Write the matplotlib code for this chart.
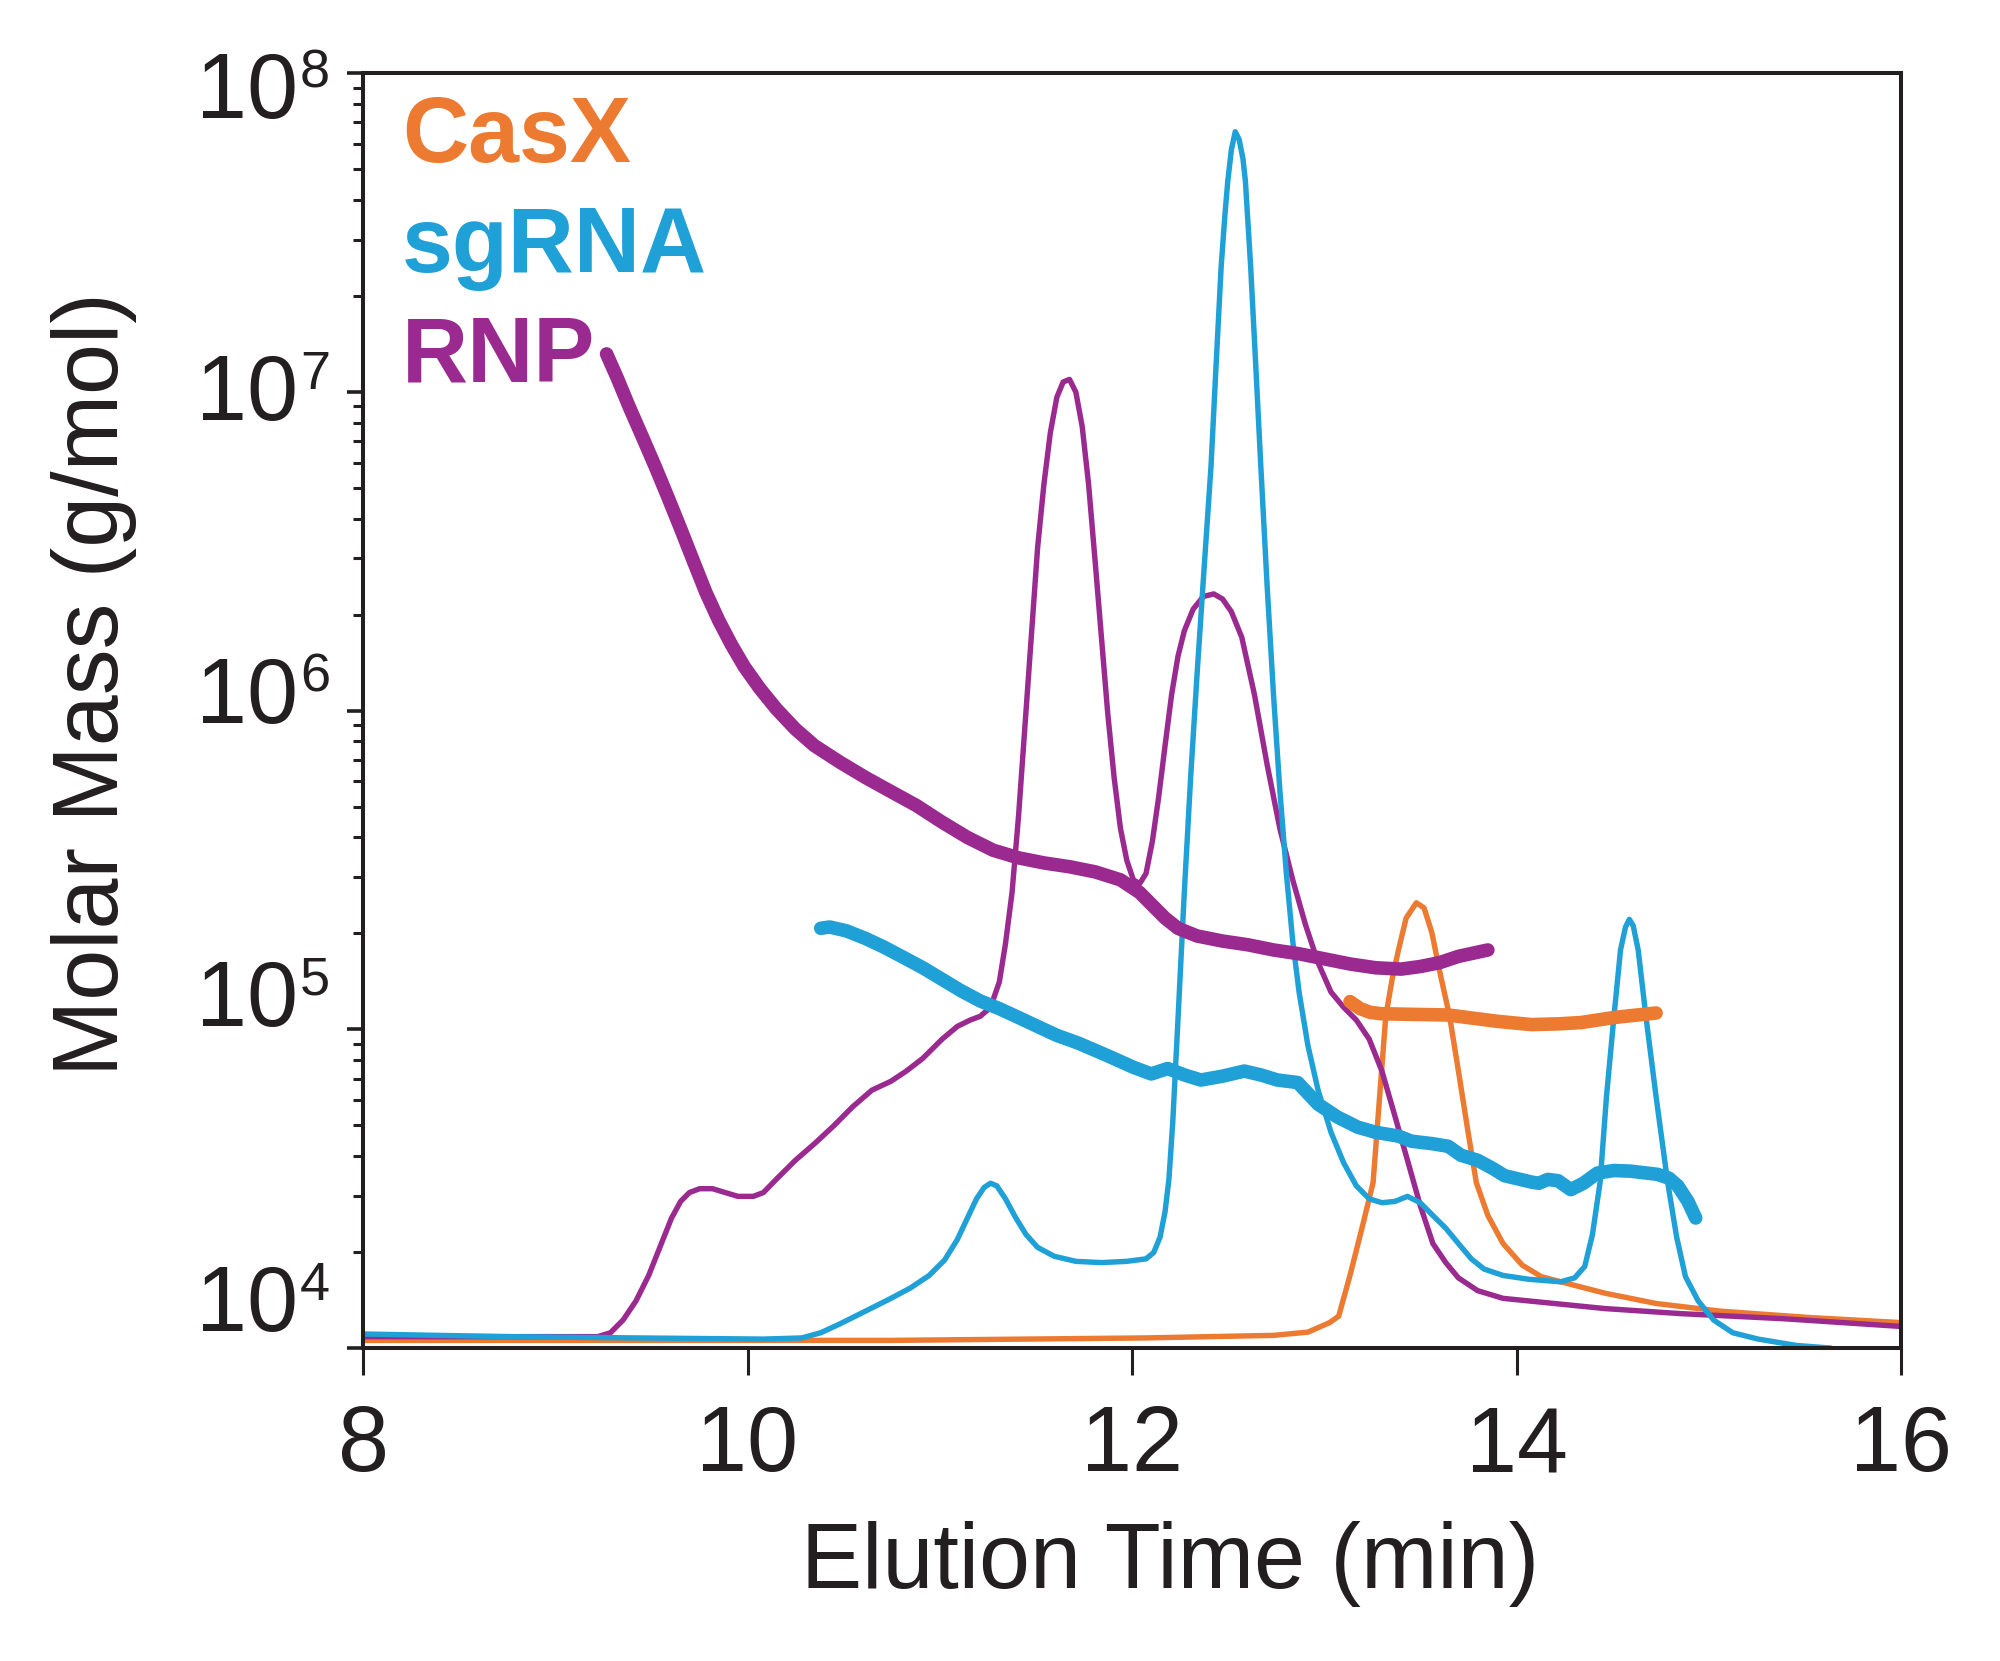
import matplotlib
matplotlib.use("Agg")
import matplotlib.pyplot as plt
from matplotlib.transforms import blended_transform_factory, ScaledTranslation

plt.rcParams['font.family'] = ['Liberation Sans', 'DejaVu Sans']

# ---------------- data (elution time in min, molar mass in g/mol) ----------------
# thin traces (detector signal drawn on the same log axis)
rnp_trace_t = [8.0, 9.221, 9.287, 9.353, 9.420, 9.486, 9.552, 9.605, 9.652, 9.698, 9.751,
               9.818, 9.884, 9.950, 10.030, 10.083, 10.149, 10.249, 10.348, 10.448, 10.547,
               10.647, 10.746, 10.826, 10.912, 11.012, 11.091, 11.158, 11.211, 11.264, 11.310,
               11.342, 11.376, 11.410, 11.443, 11.476, 11.509, 11.542, 11.575, 11.609, 11.642,
               11.675, 11.708, 11.741, 11.774, 11.808, 11.841, 11.874, 11.907, 11.940, 11.973,
               12.007, 12.040, 12.073, 12.106, 12.139, 12.172, 12.206, 12.239, 12.272, 12.318,
               12.371, 12.425, 12.471, 12.517, 12.571, 12.637, 12.703, 12.769, 12.836, 12.902,
               12.968, 13.035, 13.101, 13.167, 13.234, 13.300, 13.367, 13.433, 13.499, 13.565,
               13.632, 13.698, 13.798, 13.930, 14.196, 14.461, 14.859, 15.390, 16.0]
rnp_trace_m = [1.086e4, 1.086e4, 1.117e4, 1.225e4, 1.406e4, 1.690e4, 2.128e4, 2.559e4, 2.884e4,
               3.076e4, 3.162e4, 3.162e4, 3.076e4, 2.992e4, 2.992e4, 3.076e4, 3.381e4, 3.882e4,
               4.375e4, 4.977e4, 5.715e4, 6.442e4, 6.871e4, 7.396e4, 8.110e4, 9.311e4, 1.021e5,
               1.069e5, 1.099e5, 1.172e5, 1.409e5, 1.858e5, 2.685e5, 4.677e5, 8.913e5, 1.698e6,
               3.243e6, 5.140e6, 7.430e6, 9.616e6, 1.074e7, 1.094e7, 9.977e6, 7.780e6, 5.140e6,
               2.951e6, 1.698e6, 9.772e5, 6.166e5, 4.266e5, 3.388e5, 2.944e5, 2.864e5, 3.083e5,
               3.890e5, 5.370e5, 7.762e5, 1.122e6, 1.479e6, 1.778e6, 2.080e6, 2.280e6, 2.323e6,
               2.239e6, 2.042e6, 1.698e6, 1.122e6, 6.761e5, 4.266e5, 2.944e5, 2.133e5, 1.618e5,
               1.309e5, 1.172e5, 1.069e5, 9.311e4, 7.396e4, 5.358e4, 3.882e4, 2.805e4, 2.128e4,
               1.854e4, 1.660e4, 1.514e4, 1.432e4, 1.380e4, 1.330e4, 1.282e4, 1.236e4, 1.169e4]

sgrna_trace_t = [8.0, 8.756, 9.420, 10.083, 10.282, 10.381, 10.481, 10.614, 10.746, 10.846,
                 10.945, 11.025, 11.091, 11.144, 11.191, 11.231, 11.264, 11.297, 11.342, 11.396,
                 11.449, 11.509, 11.595, 11.708, 11.841, 11.973, 12.073, 12.113, 12.146, 12.172,
                 12.192, 12.212, 12.239, 12.272, 12.305, 12.338, 12.371, 12.411, 12.438, 12.464,
                 12.484, 12.498, 12.517, 12.537, 12.557, 12.577, 12.590, 12.617, 12.643, 12.670,
                 12.703, 12.736, 12.769, 12.803, 12.836, 12.869, 12.915, 12.968, 13.035, 13.101,
                 13.167, 13.234, 13.300, 13.367, 13.433, 13.499, 13.565, 13.632, 13.698, 13.765,
                 13.831, 13.930, 14.063, 14.229, 14.302, 14.355, 14.395, 14.435, 14.468, 14.507,
                 14.541, 14.567, 14.587, 14.607, 14.633, 14.673, 14.726, 14.786, 14.833, 14.879,
                 14.945, 15.025, 15.125, 15.257, 15.456, 15.635]
sgrna_trace_m = [1.107e4, 1.086e4, 1.076e4, 1.067e4, 1.076e4, 1.117e4, 1.191e4, 1.306e4,
                 1.432e4, 1.542e4, 1.690e4, 1.888e4, 2.188e4, 2.559e4, 2.938e4, 3.192e4,
                 3.289e4, 3.228e4, 2.938e4, 2.559e4, 2.270e4, 2.070e4, 1.941e4, 1.871e4,
                 1.854e4, 1.871e4, 1.905e4, 1.995e4, 2.228e4, 2.679e4, 3.381e4, 5.117e4,
                 1.069e5, 2.685e5, 6.166e5, 1.288e6, 2.570e6, 5.848e6, 1.233e7, 2.483e7,
                 3.631e7, 4.571e7, 5.754e7, 6.546e7, 6.194e7, 5.395e7, 4.571e7, 2.483e7,
                 1.233e7, 5.848e6, 2.455e6, 1.122e6, 5.623e5, 3.083e5, 1.892e5, 1.309e5,
                 8.892e4, 6.442e4, 4.753e4, 3.811e4, 3.228e4, 2.938e4, 2.858e4, 2.884e4,
                 2.992e4, 2.858e4, 2.606e4, 2.377e4, 2.128e4, 1.905e4, 1.770e4, 1.690e4,
                 1.644e4, 1.614e4, 1.660e4, 1.803e4, 2.270e4, 3.319e4, 6.152e4, 1.099e5,
                 1.774e5, 2.094e5, 2.213e5, 2.113e5, 1.774e5, 1.099e5, 6.152e4, 3.319e4,
                 2.228e4, 1.675e4, 1.406e4, 1.225e4, 1.117e4, 1.067e4, 1.019e4, 1.0e4]

casx_trace_t = [8.0, 10.746, 12.073, 12.736, 12.915, 13.028, 13.075, 13.134, 13.201, 13.254,
                13.287, 13.320, 13.353, 13.386, 13.426, 13.479, 13.519, 13.559, 13.605, 13.652,
                13.698, 13.745, 13.791, 13.851, 13.930, 14.030, 14.129, 14.255, 14.461, 14.726,
                15.058, 15.522, 16.0]
casx_trace_m = [1.057e4, 1.057e4, 1.076e4, 1.096e4, 1.122e4, 1.202e4, 1.259e4, 1.690e4,
                2.443e4, 3.304e4, 6.039e4, 1.099e5, 1.435e5, 1.774e5, 2.234e5, 2.495e5,
                2.404e5, 2.018e5, 1.476e5, 1.099e5, 7.396e4, 4.887e4, 3.304e4, 2.606e4,
                2.128e4, 1.820e4, 1.675e4, 1.600e4, 1.486e4, 1.380e4, 1.306e4, 1.247e4, 1.202e4]

# thick traces (measured molar mass)
rnp_mass_t = [9.267, 9.320, 9.386, 9.453, 9.519, 9.585, 9.652, 9.718, 9.784, 9.851, 9.917,
              9.983, 10.063, 10.149, 10.249, 10.348, 10.481, 10.614, 10.746, 10.879, 11.012,
              11.144, 11.277, 11.410, 11.542, 11.675, 11.808, 11.940, 12.040, 12.106, 12.172,
              12.239, 12.338, 12.471, 12.604, 12.736, 12.869, 13.002, 13.134, 13.267, 13.400,
              13.499, 13.599, 13.698, 13.851]
rnp_mass_m = [1.315e7, 1.114e7, 8.933e6, 7.228e6, 5.848e6, 4.688e6, 3.724e6, 2.951e6, 2.344e6,
              1.914e6, 1.607e6, 1.374e6, 1.175e6, 1.014e6, 8.750e5, 7.762e5, 6.887e5, 6.166e5,
              5.572e5, 5.035e5, 4.467e5, 3.999e5, 3.648e5, 3.451e5, 3.327e5, 3.236e5, 3.119e5,
              2.944e5, 2.685e5, 2.449e5, 2.234e5, 2.075e5, 1.963e5, 1.892e5, 1.841e5, 1.774e5,
              1.726e5, 1.663e5, 1.603e5, 1.560e5, 1.545e5, 1.574e5, 1.618e5, 1.694e5, 1.774e5]

sgrna_mass_t = [10.381, 10.428, 10.514, 10.614, 10.713, 10.813, 10.912, 11.012, 11.111, 11.211,
                11.310, 11.410, 11.509, 11.609, 11.721, 11.874, 12.007, 12.100, 12.186, 12.272,
                12.358, 12.471, 12.584, 12.670, 12.756, 12.862, 12.968, 13.068, 13.174, 13.267,
                13.386, 13.453, 13.565, 13.645, 13.711, 13.798, 13.884, 13.937, 14.076, 14.116,
                14.163, 14.216, 14.282, 14.348, 14.421, 14.507, 14.594, 14.733, 14.793, 14.839,
                14.892, 14.932]
sgrna_mass_m = [2.075e5, 2.094e5, 2.037e5, 1.928e5, 1.807e5, 1.679e5, 1.560e5, 1.435e5, 1.321e5,
                1.227e5, 1.161e5, 1.089e5, 1.021e5, 9.572e4, 9.050e4, 8.260e4, 7.603e4, 7.244e4,
                7.534e4, 7.194e4, 6.934e4, 7.129e4, 7.396e4, 7.194e4, 6.934e4, 6.808e4, 5.821e4,
                5.309e4, 4.932e4, 4.753e4, 4.624e4, 4.457e4, 4.375e4, 4.295e4, 4.027e4, 3.882e4,
                3.639e4, 3.475e4, 3.319e4, 3.289e4, 3.381e4, 3.350e4, 3.141e4, 3.289e4, 3.540e4,
                3.606e4, 3.589e4, 3.508e4, 3.412e4, 3.228e4, 2.884e4, 2.559e4]

casx_mass_t = [13.134, 13.187, 13.240, 13.300, 13.466, 13.645, 13.798, 13.904, 14.076, 14.216,
               14.335, 14.507, 14.627, 14.726]
casx_mass_m = [1.222e5, 1.161e5, 1.130e5, 1.119e5, 1.114e5, 1.109e5, 1.079e5, 1.059e5, 1.035e5,
               1.040e5, 1.050e5, 1.089e5, 1.109e5, 1.125e5]

series_names = ['CasX', 'sgRNA', 'RNP']
x_ticks = [8, 10, 12, 14, 16]
y_decades = [4, 5, 6, 7, 8]

# ---------------- style ----------------
C_ORANGE = '#EC7A31'
C_BLUE = '#1FA0D7'
C_PURPLE = '#9A2A8F'
C_INK = '#231F20'

fig = plt.figure(figsize=(20, 16.61), dpi=100)
ax = fig.add_axes([0.1815, 0.1884, 0.769, 0.7676])

thin = 3.9
thick = 9.8
for t, m, c in [(casx_trace_t, casx_trace_m, C_ORANGE),
                (rnp_trace_t, rnp_trace_m, C_PURPLE),
                (sgrna_trace_t, sgrna_trace_m, C_BLUE)]:
    ax.plot(t, m, color=c, lw=thin, solid_joinstyle='round', solid_capstyle='round', zorder=2)

for t, m, c in [(rnp_mass_t, rnp_mass_m, C_PURPLE),
                (sgrna_mass_t, sgrna_mass_m, C_BLUE),
                (casx_mass_t, casx_mass_m, C_ORANGE)]:
    ax.plot(t, m, color=c, lw=thick, solid_capstyle='round', solid_joinstyle='round', zorder=3)

ax.set_yscale('log')
ax.set_xlim(8, 16)
ax.set_ylim(1e4, 1e8)

for sp in ax.spines.values():
    sp.set_linewidth(2.9)
    sp.set_color(C_INK)

ax.set_xticks(x_ticks)
ax.set_xticklabels([str(v) for v in x_ticks])
ax.tick_params(axis='x', which='major', direction='out', length=19.5, width=2.2,
               pad=21, labelsize=66, colors=C_INK)
ax.tick_params(axis='x', which='minor', bottom=False)
ax.tick_params(axis='y', which='major', direction='out', length=11.5, width=2.6,
               labelleft=False, colors=C_INK)
ax.tick_params(axis='y', which='minor', direction='out', length=7.2, width=2.2,
               colors=C_INK)
ax.yaxis.set_minor_locator(matplotlib.ticker.LogLocator(base=10, subs=range(2, 10), numticks=50))
ax.set_yticks([10.0 ** k for k in y_decades])

# y tick labels drawn as "10" + superscript exponent
label_drop_px = {8: 45, 7: 28.5, 6: 12, 5: -3.5, 4: -17}
base = blended_transform_factory(ax.transAxes, ax.transData)
for k in y_decades:
    d = label_drop_px[k]
    tr = base + ScaledTranslation(0, -d / 100.0, fig.dpi_scale_trans)
    ax.text(-0.0425, 10.0 ** k, '10', transform=tr, ha='right', va='baseline',
            fontsize=66, color=C_INK, clip_on=False)
    tr2 = base + ScaledTranslation(0, (-d + 31) / 100.0, fig.dpi_scale_trans)
    ax.text(-0.0410, 10.0 ** k, str(k), transform=tr2, ha='left', va='baseline',
            fontsize=39, color=C_INK, clip_on=False)

ax.set_xlabel('Elution Time (min)', fontsize=66, color=C_INK)
ax.xaxis.label.set_va('baseline')
ax.xaxis.set_label_coords(0.5247, -0.188)
ax.set_ylabel('Molar Mass (g/mol)', fontsize=66, color=C_INK)
ax.yaxis.label.set_va('baseline')
ax.yaxis.set_label_coords(-0.1593, 0.521)

# series legend as coloured bold words
legend_colors = [C_ORANGE, C_BLUE, C_PURPLE]
legend_y = [0.930, 0.844, 0.758]
for name, col, yy in zip(series_names, legend_colors, legend_y):
    ax.text(0.0255, yy, name, transform=ax.transAxes, color=col, fontsize=66,
            fontweight='bold', ha='left', va='baseline')

fig.savefig('out.png', dpi=100, facecolor='white')
